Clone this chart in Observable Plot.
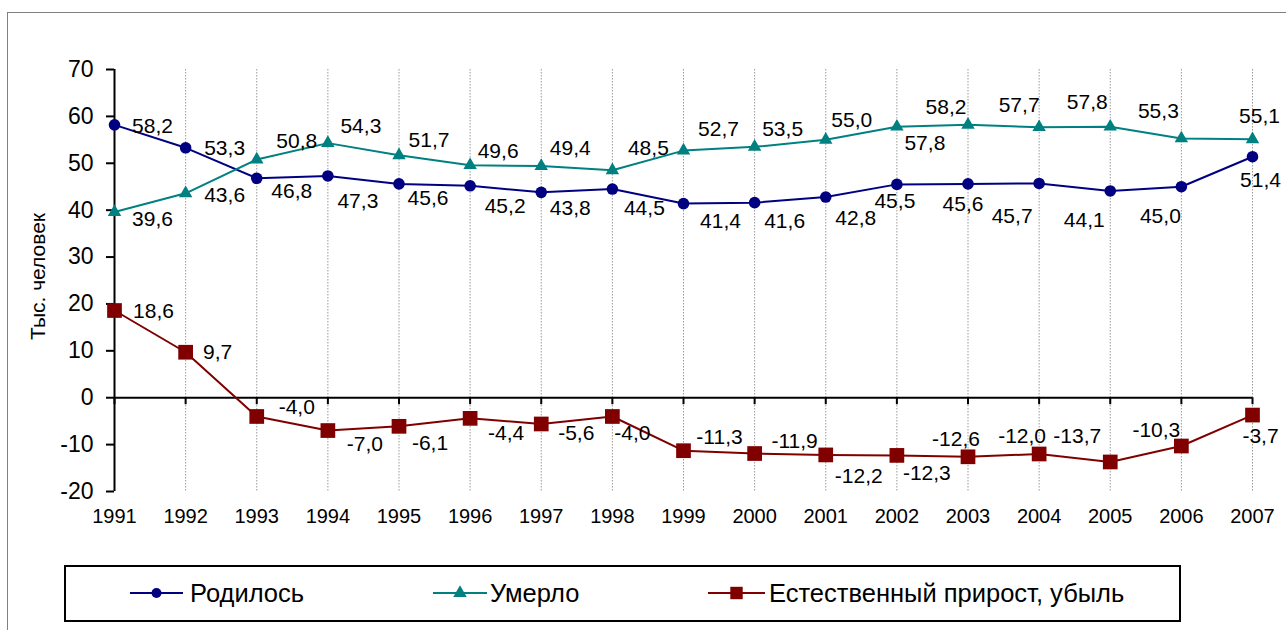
<!DOCTYPE html>
<html><head><meta charset="utf-8">
<script src="https://cdn.jsdelivr.net/npm/d3@7"></script>
<script src="https://cdn.jsdelivr.net/npm/@observablehq/plot@0.6"></script>
<style>
body{margin:0;background:#fff;font-family:"Liberation Sans",Arial,sans-serif;}
#wrap{position:relative;width:1286px;height:630px;overflow:hidden;background:#fff;}
#frame{position:absolute;left:7px;top:12px;width:1400px;height:800px;border-left:1.5px solid #808080;border-top:1.5px solid #808080;}
#chart{position:absolute;left:0;top:0;}
#legend{position:absolute;left:64px;top:565px;width:1113px;height:53px;border:2px solid #000;background:#fff;}
</style></head>
<body><div id="wrap"><div id="frame"></div><div id="chart"></div><div id="legend"></div></div>
<script>
// ---- data ----
const years = [1991,1992,1993,1994,1995,1996,1997,1998,1999,2000,2001,2002,2003,2004,2005,2006,2007];
const births  = [58.2,53.3,46.8,47.3,45.6,45.2,43.8,44.5,41.4,41.6,42.8,45.5,45.6,45.7,44.1,45.0,51.4];
const deaths  = [39.6,43.6,50.8,54.3,51.7,49.6,49.4,48.5,52.7,53.5,55.0,57.8,58.2,57.7,57.8,55.3,55.1];
const natural = [18.6,9.7,-4.0,-7.0,-6.1,-4.4,-5.6,-4.0,-11.3,-11.9,-12.2,-12.3,-12.6,-12.0,-13.7,-10.3,-3.7];
const yTicks = [-20,-10,0,10,20,30,40,50,60,70];
const seriesNames = ["Родилось","Умерло","Естественный прирост, убыль"];
const yLabel = "Тыс. человек";

// ---- label placement (layout, px offsets from each point) ----
const birthsLabelOffsets = [[38,1],[39,0],[35,13],[30,25],[29,14],[35,20],[29,16],[32,19],[37,18],[30,19],[30,21],[-2,17],[-5,20],[-27,33],[-26,29],[-21,30],[8,24]];
const deathsLabelOffsets = [[38,7],[39,2],[40,-18],[33,-17],[30,-15],[28,-14],[29,-18],[36,-22],[35,-21],[28,-18],[26,-20],[28,17],[-22,-18],[-20,-22],[-23,-24],[-23,-27],[7,-23]];
const naturalLabelOffsets = [[39,1],[32,0],[40,-9],[37,14],[31,17],[36,15],[35,9],[20,17],[36,-13],[40,-12],[33,21],[30,18],[-12,-18],[-17,-18],[-33,-26],[-25,-16],[8,21]];

const colors = ["#000080","#008080","#800000"];
const symbols = ["circle","triangle","square"];
const radii = [5.8,5,8.3];

const fmt = v => v.toFixed(1).replace(".", ",");
const series = [
  {values: births, offsets: birthsLabelOffsets},
  {values: deaths, offsets: deathsLabelOffsets},
  {values: natural, offsets: naturalLabelOffsets}
].map((s,k)=>({...s, name: seriesNames[k], color: colors[k], symbol: symbols[k], r: radii[k]}));

const marks = [
  Plot.ruleX(years.slice(1), {stroke:"#999", strokeWidth:1, strokeDasharray:"1.5,1.5"}),
  Plot.axisY({ticks: yTicks, tickSize: 8, tickPadding: 13, fontSize: 23, tickFormat: d => String(d), strokeWidth: 2, label: null}),
  Plot.axisX({ticks: years, tickSize: 0, tickPadding: 17, fontSize: 20, tickFormat: d => String(d), label: null}),
  Plot.ruleX([1991], {stroke:"#000", strokeWidth:2}),
  Plot.ruleY([0], {stroke:"#000", strokeWidth:2}),
  Plot.ruleX(years, {x: d=>d, y1: 0, y2: 0, insetBottom: -7, stroke:"#000", strokeWidth:2}),
  Plot.text([yLabel], {frameAnchor:"left", textAnchor:"middle", dx:-76, dy:-4, rotate:-90, fontSize:21, fill:"#000"})
];
for (const s of series) {
  const data = years.map((yr,i)=>({year: yr, value: s.values[i]}));
  marks.push(Plot.line(data, {x:"year", y:"value", stroke: s.color, strokeWidth: 2}));
}
for (const s of series) {
  const data = years.map((yr,i)=>({year: yr, value: s.values[i]}));
  marks.push(Plot.dot(data, {x:"year", y:"value", symbol: s.symbol, r: s.r, fill: s.color, stroke: "none"}));
}
for (const s of series) {
  years.forEach((yr,i)=>{
    marks.push(Plot.text([{year: yr, value: s.values[i]}], {x:"year", y:"value", text: d=>fmt(d.value), dx: s.offsets[i][0], dy: s.offsets[i][1], fontSize: 21, fill:"#000"}));
  });
}

const chart = Plot.plot({
  width: 1286, height: 540,
  marginLeft: 114, marginRight: 34, marginTop: 69, marginBottom: 49,
  x: {domain: [1991, 2007], label: null},
  y: {domain: [-20, 70], label: null},
  style: {fontFamily: "'Liberation Sans', Arial, sans-serif", background: "transparent", color: "#000"},
  marks
});
document.getElementById("chart").appendChild(chart);

// ---- legend ----
const lg = d3.select("#legend").append("svg").attr("width",1113).attr("height",53)
  .style("font-family","'Liberation Sans', Arial, sans-serif");
const lgPos = [[64,117,124],[367,421,424],[642,699,703]];
series.forEach((s,k)=>{
  const [x1,x2,tx] = lgPos[k];
  const g = lg.append("g");
  g.append("line").attr("x1",x1).attr("x2",x2).attr("y1",26).attr("y2",26).attr("stroke",s.color).attr("stroke-width",2);
  const sym = {circle: d3.symbolCircle, triangle: d3.symbolTriangle, square: d3.symbolSquare}[s.symbol];
  const size = k===2 ? Math.PI*49 : Math.PI*25;
  g.append("path").attr("d", d3.symbol(sym, size)()).attr("transform",`translate(${(x1+x2)/2},26)`).attr("fill",s.color);
  g.append("text").attr("x",tx).attr("y",26).attr("dy","0.35em").attr("font-size",25.5).attr("fill","#000").text(s.name);
});
</script>
</body></html>
